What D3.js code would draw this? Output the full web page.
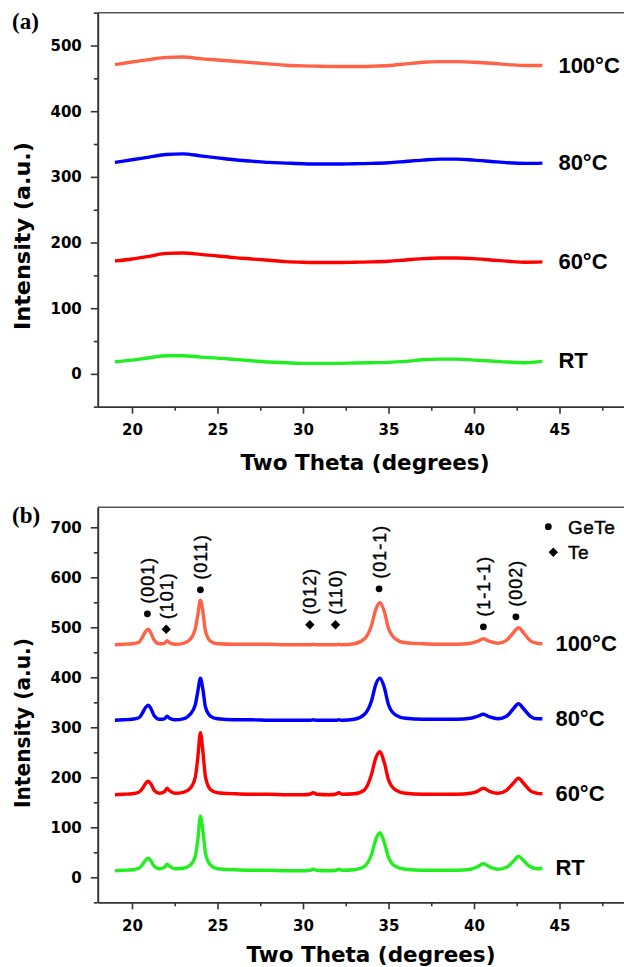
<!DOCTYPE html>
<html>
<head>
<meta charset="utf-8">
<script src="https://cdn.jsdelivr.net/npm/d3@7"></script>
<style>
  html, body { margin: 0; padding: 0; background: #fff; }
  svg { display: block; }
</style>
</head>
<body>
<div id="plot"></div>
<script>
'use strict';

// ---- panel (a): amorphous films, broad humps ----
const thetaA = [19, 20, 21, 22, 23, 24, 25, 26, 27, 28, 29, 30, 31, 32, 33, 34, 35, 36, 37, 38, 39, 40, 41, 42, 43, 44];
const rtA   = [18.5, 21, 24.5, 27.5, 27.5, 25.5, 24, 22, 20, 18, 17, 16, 16, 16, 16.5, 17, 17.5, 19, 21.5, 22.5, 22.5, 21, 19.5, 18, 17, 19];
const c60A  = [172, 175, 179, 183.5, 184, 182, 179.5, 177, 175, 173, 171, 170, 169.5, 169.5, 170, 170.5, 171.5, 173.5, 175.5, 176.5, 176.5, 175.5, 173.5, 171.5, 170, 170.5];
const c80A  = [322, 326, 330, 334, 335, 332, 329, 326, 324, 322, 321, 320, 319.5, 319.5, 320, 320.5, 321.5, 323.5, 325.5, 327, 327, 325.5, 323.5, 321.5, 320.5, 321];
const c100A = [471, 475, 478.5, 482, 482.5, 480, 478, 476, 474, 472, 470, 469, 468.5, 468, 468, 468.5, 469.5, 472, 474.5, 475.5, 475.5, 474.5, 473, 471, 469.5, 469.5];

// ---- panel (b): crystallised films ----
const thetaB = [19, 19.5, 20, 20.4, 20.6, 20.8, 20.95, 21.1, 21.3, 21.6,
                21.9, 22.05, 22.2, 22.5, 23.0, 23.4, 23.7, 23.85, 24.0, 24.15,
                24.3, 24.6, 25.0, 26, 27, 28, 29, 30, 30.4, 30.6,
                30.8, 31.5, 31.9, 32.1, 32.3, 33.0, 33.6, 34.0, 34.25, 34.5,
                34.75, 35.0, 35.4, 36, 37, 38, 39, 39.8, 40.2, 40.55,
                40.9, 41.4, 41.9, 42.3, 42.6, 42.9, 43.3, 43.7, 44];
const rtB = [13, 14, 15, 18, 25, 34, 38, 33, 22, 17,
             20, 26, 22, 17, 18, 24, 42, 75, 122, 92,
             48, 24, 17, 15, 14, 14, 13, 13, 14, 16,
             14, 13, 14, 16, 14, 15, 22, 45, 75, 89,
             70, 40, 22, 16, 14, 14, 14, 16, 21, 27,
             21, 16, 20, 32, 42, 33, 21, 17, 18];
const c60B = [165, 166, 167, 170, 177, 188, 192, 187, 174, 168,
              171, 178, 173, 168, 170, 178, 200, 240, 289, 250,
              200, 175, 169, 167, 166, 166, 165, 165, 166, 169,
              166, 165, 166, 169, 166, 167, 175, 205, 238, 251,
              230, 195, 175, 168, 166, 166, 166, 168, 172, 178,
              172, 168, 174, 188, 198, 188, 173, 168, 167];
const c80B = [314, 315, 316, 319, 328, 340, 344, 338, 323, 316,
              317, 322, 318, 315, 317, 326, 345, 372, 398, 375,
              340, 322, 317, 315, 315, 314, 314, 314, 314, 315,
              314, 314, 314, 315, 314, 316, 326, 352, 385, 398,
              380, 345, 325, 318, 316, 316, 316, 318, 322, 326,
              321, 317, 322, 337, 347, 337, 322, 317, 317];
const c100B = [465, 466, 467, 470, 480, 492, 496, 489, 474, 467,
               468, 473, 469, 466, 468, 476, 497, 525, 554, 530,
               492, 472, 467, 466, 466, 466, 465, 465, 465, 466,
               465, 465, 465, 466, 465, 467, 477, 503, 535, 549,
               532, 498, 477, 469, 467, 466, 466, 468, 472, 477,
               472, 468, 474, 489, 499, 489, 473, 468, 467];

const seriesNames = ['RT', '60°C', '80°C', '100°C'];
const col = ['#22ee22', '#ff0000', '#0000ff', '#ff6347'];

// peak indexing in (b)
const peakHkl   = ['(001)', '(101)', '(011)', '(012)', '(110)', '(01-1)', '(1-1-1)', '(002)'];
const peakPhase = ['GeTe', 'Te', 'GeTe', 'Te', 'Te', 'GeTe', 'GeTe', 'GeTe'];
const peakTheta = [20.9, 22.0, 24.0, 30.4, 31.9, 34.45, 40.55, 42.45];
const peakMarkY = [527, 496, 575, 505, 505, 577, 501, 521];
const phases = ['GeTe', 'Te'];

// axis ticks
const xMajor = [20, 25, 30, 35, 40, 45];
const xMinor = [22.5, 27.5, 32.5, 37.5, 42.5, 47.5];
const yMajorA = [0, 100, 200, 300, 400, 500];
const yMinorA = [-50, 50, 150, 250, 350, 450, 550];
const yMajorB = [0, 100, 200, 300, 400, 500, 600, 700];
const yMinorB = [-50, 50, 150, 250, 350, 450, 550, 650];

const width = 624, height = 967;
const svg = d3.select('#plot').append('svg')
  .attr('width', width)
  .attr('height', height);

const x = d3.scaleLinear().domain([18, 50]).range([97.8, 645]);
const axisCol = '#333';
const sans = '"Liberation Sans", Arial, sans-serif';

function drawPanel(p) {
  let y = d3.scaleLinear().domain(p.yDomain).range([p.bottom, p.top]);
  let g = svg.append('g');

  // top frame line
  g.append('line')
    .attr('x1', x.range()[0]).attr('x2', width)
    .attr('y1', p.top).attr('y2', p.top)
    .attr('stroke', '#555').attr('stroke-width', 1.6);

  let styleAxis = function(sel) {
    sel.selectAll('path, line').attr('stroke', axisCol).attr('stroke-width', 1.6);
    sel.selectAll('text')
      .attr('fill', '#000')
      .attr('font-family', '"DejaVu Sans", sans-serif')
      .attr('font-weight', 'bold')
      .attr('font-size', '15px');
  }

  g.append('g')
    .attr('transform', `translate(0, ${p.bottom})`)
    .call(d3.axisBottom(x).tickValues(xMinor).tickSize(4).tickSizeOuter(0).tickFormat(''))
    .call(styleAxis);
  g.append('g')
    .attr('transform', `translate(0, ${p.bottom})`)
    .call(d3.axisBottom(x).tickValues(xMajor).tickSize(7).tickSizeOuter(0).tickPadding(11))
    .call(styleAxis);
  g.append('g')
    .attr('transform', `translate(${x.range()[0]}, 0)`)
    .call(d3.axisLeft(y).tickValues(p.yMinor).tickSize(4).tickSizeOuter(0).tickFormat(''))
    .call(styleAxis);
  g.append('g')
    .attr('transform', `translate(${x.range()[0]}, 0)`)
    .call(d3.axisLeft(y).tickValues(p.yMajor).tickSize(7).tickSizeOuter(0).tickPadding(9))
    .call(styleAxis);

  let line = d3.line()
    .x(d => x(d[0]))
    .y(d => y(d[1]))
    .curve(d3.curveMonotoneX);

  p.series.forEach(function(vals, i) {
    g.append('path')
      .attr('d', line(d3.zip(p.theta, vals)))
      .attr('fill', 'none')
      .attr('stroke', col[i])
      .attr('stroke-width', 3.4)
      .attr('stroke-linejoin', 'round');
    let last = p.theta.length - 1;
    g.append('text')
      .attr('x', x(p.theta[last]) + p.labelDx)
      .attr('y', y(vals[last]) + 7)
      .attr('font-family', sans)
      .attr('font-weight', 'bold')
      .attr('font-size', '22px')
      .attr('fill', '#000')
      .text(seriesNames[i]);
  });

  // axis titles
  g.append('text')
    .attr('transform', `translate(23, ${p.yTitleY}) rotate(-90)`)
    .attr('text-anchor', 'middle')
    .attr('dy', '0.35em')
    .attr('font-family', '"DejaVu Sans", sans-serif')
    .attr('font-weight', 'bold')
    .attr('font-size', '21px')
    .attr('textLength', p.yTitleLen)
    .attr('lengthAdjust', 'spacingAndGlyphs')
    .text('Intensity (a.u.)');
  g.append('text')
    .attr('x', p.xTitleX)
    .attr('y', p.xTitleY)
    .attr('text-anchor', 'middle')
    .attr('font-family', '"DejaVu Sans", sans-serif')
    .attr('font-weight', 'bold')
    .attr('font-size', '22px')
    .attr('textLength', 249)
    .attr('lengthAdjust', 'spacingAndGlyphs')
    .text('Two Theta (degrees)');

  // panel letter
  g.append('text')
    .attr('x', 12)
    .attr('y', p.top + 16)
    .attr('font-family', '"Liberation Serif", "Times New Roman", serif')
    .attr('font-weight', 'bold')
    .attr('font-size', '23px')
    .text(p.letter);

  return y;
}

drawPanel({
  letter: '(a)', top: 12.7, bottom: 406.7, yDomain: [-50, 550],
  yMajor: yMajorA, yMinor: yMinorA,
  theta: thetaA, series: [rtA, c60A, c80A, c100A], labelDx: 16,
  yTitleY: 236, yTitleLen: 188, xTitleX: 365, xTitleY: 470
});

const yB = drawPanel({
  letter: '(b)', top: 507.3, bottom: 902.3, yDomain: [-50, 740],
  yMajor: yMajorB, yMinor: yMinorB,
  theta: thetaB, series: [rtB, c60B, c80B, c100B], labelDx: 13,
  yTitleY: 723, yTitleLen: 170, xTitleX: 371, xTitleY: 962
});

// phase markers
function marker(sel, phase, cx, cy) {
  if (phase == 'GeTe') {
    sel.append('circle')
      .attr('cx', cx).attr('cy', cy).attr('r', 3.4)
      .attr('fill', '#000');
  } else {
    sel.append('path')
      .attr('d', d3.symbol(d3.symbolSquare, 44)())
      .attr('transform', `translate(${cx}, ${cy}) rotate(45)`)
      .attr('fill', '#000');
  }
}

let ann = svg.append('g');
peakHkl.forEach(function(hkl, i) {
  let cx = x(peakTheta[i]);
  let cy = yB(peakMarkY[i]);
  marker(ann, peakPhase[i], cx, cy);
  ann.append('text')
    .attr('transform', `translate(${cx}, ${cy - 10}) rotate(-90)`)
    .attr('dy', '0.36em')
    .attr('font-family', sans)
    .attr('font-size', '18px')
    .attr('letter-spacing', '1px')
    .attr('stroke', '#000')
    .attr('stroke-width', 0.4)
    .attr('fill', '#000')
    .text(hkl);
});

// legend
phases.forEach(function(ph, i) {
  let ly = 526.7 + i * 25.6;
  marker(ann, ph, 548.3 + i * 5, ly);
  ann.append('text')
    .attr('x', 568)
    .attr('y', ly + 7)
    .attr('font-family', sans)
    .attr('font-size', '19px')
    .attr('letter-spacing', '0.5px')
    .attr('stroke', '#000')
    .attr('stroke-width', 0.4)
    .attr('fill', '#000')
    .text(ph);
});
</script>
</body>
</html>
